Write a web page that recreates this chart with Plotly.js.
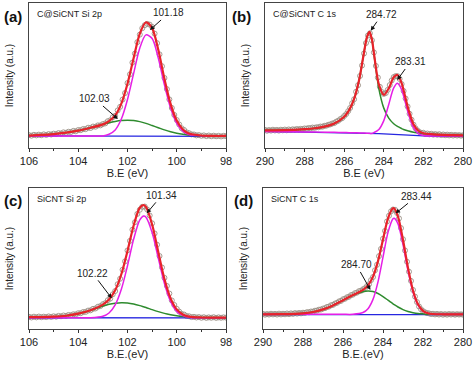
<!DOCTYPE html>
<html><head><meta charset="utf-8">
<script src="https://cdn.plot.ly/plotly-3.0.1.min.js"></script>
<style>html,body{margin:0;padding:0;background:#fff}#chart{width:474px;height:365px}</style>
</head><body><div id="chart"></div>
<script>
// ---- measured binding-energy grids (data points, 0.1 eV) ----
const xSi = [106,105.9,105.8,105.7,105.6,105.5,105.4,105.3,105.2,105.1,
  105,104.9,104.8,104.7,104.6,104.5,104.4,104.3,104.2,104.1,
  104,103.9,103.8,103.7,103.6,103.5,103.4,103.3,103.2,103.1,
  103,102.9,102.8,102.7,102.6,102.5,102.4,102.3,102.2,102.1,
  102,101.9,101.8,101.7,101.6,101.5,101.4,101.3,101.2,101.1,
  101,100.9,100.8,100.7,100.6,100.5,100.4,100.3,100.2,100.1,
  100,99.9,99.8,99.7,99.6,99.5,99.4,99.3,99.2,99.1,
  99,98.9,98.8,98.7,98.6,98.5,98.4,98.3,98.2,98.1,98];
const xC = [290,289.9,289.8,289.7,289.6,289.5,289.4,289.3,289.2,289.1,
  289,288.9,288.8,288.7,288.6,288.5,288.4,288.3,288.2,288.1,
  288,287.9,287.8,287.7,287.6,287.5,287.4,287.3,287.2,287.1,
  287,286.9,286.8,286.7,286.6,286.5,286.4,286.3,286.2,286.1,
  286,285.9,285.8,285.7,285.6,285.5,285.4,285.3,285.2,285.1,
  285,284.9,284.8,284.7,284.6,284.5,284.4,284.3,284.2,284.1,
  284,283.9,283.8,283.7,283.6,283.5,283.4,283.3,283.2,283.1,
  283,282.9,282.8,282.7,282.6,282.5,282.4,282.3,282.2,282.1,
  282,281.9,281.8,281.7,281.6,281.5,281.4,281.3,281.2,281.1,
  281,280.9,280.8,280.7,280.6,280.5,280.4,280.3,280.2,280.1,280];

// ---- (a) C@SiCNT Si 2p ----
const aData = [8.9,8.5,9.1,8.7,9.2,8.8,9.4,9.0,9.6,9.3,
  9.9,9.6,10.3,10.0,10.8,10.5,11.2,11.0,11.8,11.5,
  12.4,12.3,13.1,13.0,14.0,13.8,14.8,14.7,15.6,15.6,
  16.5,17.0,18.5,19.1,21.2,22.2,25.9,28.4,33.4,37.9,
  44.8,50.8,58.9,65.1,73.0,78.2,82.6,84.7,85.6,85.1,
  83.5,78.9,72.3,64.6,56.4,48.3,40.6,33.5,27.6,22.8,
  19.3,16.2,13.6,12.4,10.8,10.2,9.4,9.3,8.7,8.9,
  8.4,8.7,8.2,8.6,8.1,8.5,8.1,8.4,8.0,8.4,8.2];
const aFitX = [106,105.5,105,104.5,104,103.5,103,102.75,102.5,102.25,102,101.75,101.5,101.25,101,100.75,100.5,100.25,100,99.75,99.5,99,98.5,98];
const aEnvelope = [8.6,9.0,9.6,10.6,12.0,14.0,16.3,18.6,22.5,30.6,44.3,62.1,78.9,86.7,82.7,67.7,47.7,30.4,18.9,12.8,10.0,8.6,8.3,8.3];
const aMainPeak = [8.3,8.3,8.3,8.3,8.3,8.3,8.3,9.5,12.5,20.0,33.5,51.5,69.0,78.0,75.5,62.0,43.5,27.5,17.0,11.6,9.3,8.4,8.3,8.3];
const aSidePeak = [8.6,9.0,9.6,10.6,12.0,14.0,16.3,17.4,18.3,18.9,19.1,18.9,18.2,17.0,15.5,14.0,12.5,11.2,10.2,9.5,9.0,8.5,8.3,8.3];
const aBgX = [106,98];
const aBg = [8.3,8.0];

// ---- (b) C@SiCNT C 1s ----
const bData = [12.5,11.9,12.4,12.0,12.6,12.1,12.5,12.0,12.6,12.2,
  12.7,12.2,12.8,12.4,12.9,12.6,13.1,12.8,13.2,13.0,
  13.5,13.3,13.8,13.6,14.1,13.9,14.3,14.3,14.8,14.7,
  15.3,15.4,16.0,16.3,16.9,17.2,18.2,18.8,19.9,20.6,
  22.1,23.4,25.4,27.6,30.8,33.6,38.8,43.3,49.7,56.9,
  65.2,72.4,77.6,79.1,74.3,65.9,56.6,48.6,42.2,38.6,
  37.3,37.9,40.1,43.4,46.6,48.9,49.6,49.5,47.6,44.1,
  39.3,34.1,28.6,23.6,19.5,16.1,13.6,12.1,11.0,10.3,
  10.5,9.7,10.0,9.4,9.8,9.2,9.6,9.1,9.5,8.9,
  9.3,8.8,9.2,8.7,9.1,8.6,9.0,8.6,8.9,8.5,8.8];
const bFitX = [290,289,288,287.5,287,286.5,286,285.75,285.5,285.25,285,284.85,284.72,284.6,284.5,284.25,284,283.75,283.5,283.31,283.1,283,282.75,282.5,282.25,282,281.5,281,280.5,280];
const bEnvelope = [12.2,12.3,13.0,13.6,14.7,16.9,21.6,26.1,33.8,46.7,65.9,76.5,80.1,74.75,65.5,43.85,36.7,41.1,48.8,50.35,44.7,39.8,26.3,16.4,11.9,10.2,9.45,9.1,8.9,8.75];
const bPeak28331 = [11.4,11.2,11.1,11.0,10.9,10.8,10.7,10.6,10.5,10.4,10.3,10.2,10.1,10.05,10.6,12.75,18.9,30.0,41.4,44.65,40.3,35.9,23.3,14.0,9.9,8.6,8.25,8.2,8.2,8.2];
const bPeak28472 = [12.2,12.3,13.0,13.6,14.7,16.9,21.6,26.1,33.8,46.7,65.9,76.5,80.1,74.75,64.9,40.95,27.5,20.6,16.7,14.85,13.4,12.8,11.7,10.9,10.4,9.9,9.45,9.1,8.9,8.75];
const bBg = [11.4,11.2,11.1,11.0,10.9,10.8,10.7,10.6,10.5,10.4,10.3,10.2,10.1,10.05,10.0,9.85,9.7,9.5,9.3,9.15,9.0,8.9,8.7,8.5,8.4,8.3,8.25,8.2,8.2,8.2];

// ---- (c) SiCNT Si 2p ----
const cData = [6.9,6.4,7.0,6.5,7.1,6.6,7.0,6.7,7.2,6.8,
  7.3,7.0,7.6,7.3,7.9,7.6,8.3,8.1,8.8,8.7,
  9.6,9.6,10.5,10.6,11.6,11.8,12.9,13.2,14.5,15.0,
  16.4,17.2,19.4,20.6,23.8,26.3,31.4,35.5,42.3,48.6,
  56.8,64.0,72.4,78.0,84.3,87.4,89.6,89.8,87.6,83.1,
  77.2,69.6,61.1,52.6,44.0,36.2,30.1,24.4,19.2,15.8,
  12.9,10.8,9.1,8.6,7.5,7.3,6.7,6.9,6.4,6.7,
  6.2,6.6,6.1,6.5,6.2,6.6,6.1,6.5,6.2,6.5,6.3];
const cFitX = [106,105.5,105,104.5,104,103.5,103,102.75,102.5,102.25,102,101.75,101.5,101.34,101.25,101,100.75,100.5,100.25,100,99.75,99.5,99,98.5,98];
const cEnvelope = [6.6,6.7,7.0,7.7,9.25,11.9,16.1,19.9,26.8,38.9,56.4,75.6,88.9,90.9,89.5,76.3,55.6,35.3,20.8,12.5,8.7,7.1,6.4,6.3,6.25];
const cMainPeak = [6.2,6.2,6.2,6.2,6.2,6.2,7.3,9.8,15.9,27.6,45.3,65.3,79.8,82.7,81.8,70.2,51.0,32.0,18.5,11.0,7.8,6.6,6.2,6.2,6.2];
const cSidePeak = [6.6,6.7,7.0,7.7,9.25,11.9,15.0,16.3,17.1,17.5,17.3,16.5,15.3,14.4,13.9,12.3,10.8,9.5,8.5,7.7,7.1,6.7,6.4,6.3,6.25];
const cBgX = [106,98];
const cBg = [6.2,6.1];

// ---- (d) SiCNT C 1s ----
const dData = [9.1,8.5,9.0,8.6,9.2,8.7,9.1,8.6,9.3,8.7,
  9.2,8.8,9.4,8.9,9.5,9.1,9.7,9.3,9.8,9.5,
  10.0,9.9,10.4,10.3,10.9,10.8,11.5,11.6,12.3,12.4,
  13.1,13.4,14.3,14.6,15.6,15.9,16.9,17.4,18.5,18.9,
  20.1,20.5,21.6,22.0,23.2,23.6,24.7,25.1,26.2,26.5,
  27.6,28.4,30.0,31.4,34.5,36.8,41.9,46.0,52.5,58.0,
  65.6,71.5,78.6,82.9,86.2,87.6,87.4,85.0,80.9,73.6,
  65.2,56.8,48.3,40.8,33.9,27.1,22.1,18.0,14.7,12.6,
  11.2,10.3,9.7,9.5,9.0,9.2,8.7,9.1,8.6,9.0,
  8.5,8.9,8.5,9.0,8.6,8.9,8.5,8.9,8.6,8.8,8.5];
const dFitX = [290,289,288,287.5,287,286.5,286,285.5,285,284.75,284.5,284.25,284,283.75,283.5,283.44,283.25,283,282.75,282.5,282.25,282,281.75,281.5,281,280.5,280];
const dEnvelope = [8.8,8.9,9.5,10.5,12.5,15.5,19.4,23.3,27.1,30.5,37.1,48.8,65.1,81.0,88.5,88.3,82.3,64.8,43.7,26.7,16.3,11.4,9.6,9.0,8.8,8.8,8.8];
const dPeak28344 = [8.8,8.8,8.8,8.8,8.8,8.8,8.8,8.8,10.1,13.0,20.0,33.2,51.8,70.4,80.6,81.0,76.8,61.3,41.6,25.5,15.7,11.1,9.5,8.95,8.8,8.8,8.8];
const dPeak28470 = [8.8,8.9,9.5,10.5,12.5,15.5,19.4,23.3,25.8,26.3,25.9,24.4,22.1,19.4,16.7,16.1,14.3,12.3,10.9,10.0,9.4,9.1,8.9,8.85,8.8,8.8,8.8];
const dBgX = [290,280];
const dBg = [8.6,8.6];

// ---- labels ----
const panelLetters = ['(a)','(b)','(c)','(d)'];
const panelNames = ['C@SiCNT Si 2p','C@SiCNT C 1s','SiCNT Si 2p','SiCNT C 1s'];
const xTitles = ['B.E (eV)','B.E (eV)','B.E.(eV)','B.E.(eV)'];
const yTitle = 'Intensity (a.u.)';
const siTicks = [106,104,102,100,98];
const cTicks = [290,288,286,284,282,280];
const peakLabels = [
  {p:0, text:'101.18', x:101.09, y:81.4, ax:19, ay:-17},
  {p:0, text:'102.03', x:102.39, y:20.0, ax:-23, ay:-20},
  {p:1, text:'284.72', x:284.66, y:80.9, ax:11, ay:-16},
  {p:1, text:'283.31', x:283.32, y:46.9, ax:13, ay:-18},
  {p:2, text:'101.34', x:101.22, y:84.7, ax:15, ay:-18},
  {p:2, text:'102.22', x:102.64, y:20.8, ax:-19, ay:-25},
  {p:3, text:'283.44', x:283.37, y:84.7, ax:21, ay:-17},
  {p:3, text:'284.70', x:284.63, y:27.1, ax:-14, ay:-25}
];

const RED='#e8222a', MAG='#e61ee6', GRN='#2e8b2e', BLU='#2626e0', PT='#9a9084';
const panels = [
  {data:aData, dx:xSi, fx:aFitX, env:aEnvelope, p1:aMainPeak, p2:aSidePeak, bgx:aBgX, bg:aBg},
  {data:bData, dx:xC,  fx:bFitX, env:bEnvelope, p1:bPeak28331, p2:bPeak28472, bgx:bFitX, bg:bBg},
  {data:cData, dx:xSi, fx:cFitX, env:cEnvelope, p1:cMainPeak, p2:cSidePeak, bgx:cBgX, bg:cBg},
  {data:dData, dx:xC,  fx:dFitX, env:dEnvelope, p1:dPeak28344, p2:dPeak28470, bgx:dBgX, bg:dBg}
];
const traces = [];
panels.forEach((P,i)=>{
  const xa = 'x'+(i===0?'':i+1), ya = 'y'+(i===0?'':i+1);
  traces.push({x:P.dx, y:P.data, xaxis:xa, yaxis:ya, mode:'markers', type:'scatter',
    marker:{symbol:'circle-open', size:5, color:PT, line:{width:0.9, color:PT}}});
  traces.push({x:P.bgx, y:P.bg, xaxis:xa, yaxis:ya, mode:'lines', type:'scatter', line:{color:BLU, width:1.3}});
  traces.push({x:P.fx, y:P.p2, xaxis:xa, yaxis:ya, mode:'lines', type:'scatter', line:{color:GRN, width:1.5, shape:'spline', smoothing:0.8}});
  traces.push({x:P.fx, y:P.p1, xaxis:xa, yaxis:ya, mode:'lines', type:'scatter', line:{color:MAG, width:1.5, shape:'spline', smoothing:0.8}});
  traces.push({x:P.fx, y:P.env, xaxis:xa, yaxis:ya, mode:'lines', type:'scatter', line:{color:RED, width:2.2, shape:'spline', smoothing:0.8}});
});

const FONT = 'Liberation Sans, Arial, sans-serif';
const W=474, H=365;
const frames = [
  {l:29, r:226, t:3, b:148, yr:[0,100], lx:2},
  {l:265, r:463, t:3, b:148, yr:[0,100], lx:230},
  {l:29, r:226, t:188, b:329, yr:[-2.26,103.76], lx:2},
  {l:263, r:463, t:188, b:329, yr:[-2.26,103.76], lx:232}
];
const layout = {width:W, height:H, margin:{l:0,r:0,t:0,b:0}, showlegend:false,
  paper_bgcolor:'#fff', plot_bgcolor:'#fff', font:{family:FONT, color:'#222', size:11}, annotations:[]};
frames.forEach((f,i)=>{
  const n = i===0?'':i+1;
  const isSi = (i%2===0);
  layout['xaxis'+n] = {domain:[f.l/W, f.r/W], anchor:'y'+n,
    range: isSi ? [106,98] : [290,280], tickvals: isSi ? siTicks : cTicks,
    ticks:'outside', ticklen:3, tickwidth:1, tickcolor:'#333',
    minor:{dtick:1, tick0:0, ticks:'outside', ticklen:2, tickcolor:'#333'},
    showline:true, mirror:true, linecolor:'#444', linewidth:1, showgrid:false, zeroline:false,
    tickfont:{family:FONT, size:11, color:'#222'},
    title:{text:xTitles[i], font:{family:FONT, size:11, color:'#222'}, standoff:3}};
  layout['yaxis'+n] = {domain:[1-f.b/H, 1-f.t/H], anchor:'x'+n, range:f.yr,
    showticklabels:false, ticks:'', showline:true, mirror:true, linecolor:'#444', linewidth:1,
    showgrid:false, zeroline:false,
    title:{text:yTitle, font:{family:FONT, size:10, color:'#222'}, standoff:12}};
  layout.annotations.push({xref:'paper', yref:'paper', x:f.lx/W, y:1-(f.t+13)/H, xanchor:'left', yanchor:'middle',
    text:'<b>'+panelLetters[i]+'</b>', showarrow:false, font:{family:FONT, size:15, color:'#111'}});
  layout.annotations.push({xref:'paper', yref:'paper', x:(f.l+6)/W, y:1-(f.t+11)/H, xanchor:'left', yanchor:'middle',
    text:panelNames[i], showarrow:false, font:{family:FONT, size:9, color:'#222'}});
});
peakLabels.forEach(L=>{
  const n = L.p===0?'':L.p+1;
  layout.annotations.push({xref:'x'+n, yref:'y'+n, x:L.x, y:L.y, ax:L.ax, ay:L.ay, text:L.text,
    showarrow:true, arrowhead:2, arrowsize:0.9, arrowwidth:1, arrowcolor:'#111', standoff:0,
    font:{family:FONT, size:10, color:'#222'}});
});
Plotly.newPlot('chart', traces, layout, {staticPlot:true, displayModeBar:false});
</script></body></html>
